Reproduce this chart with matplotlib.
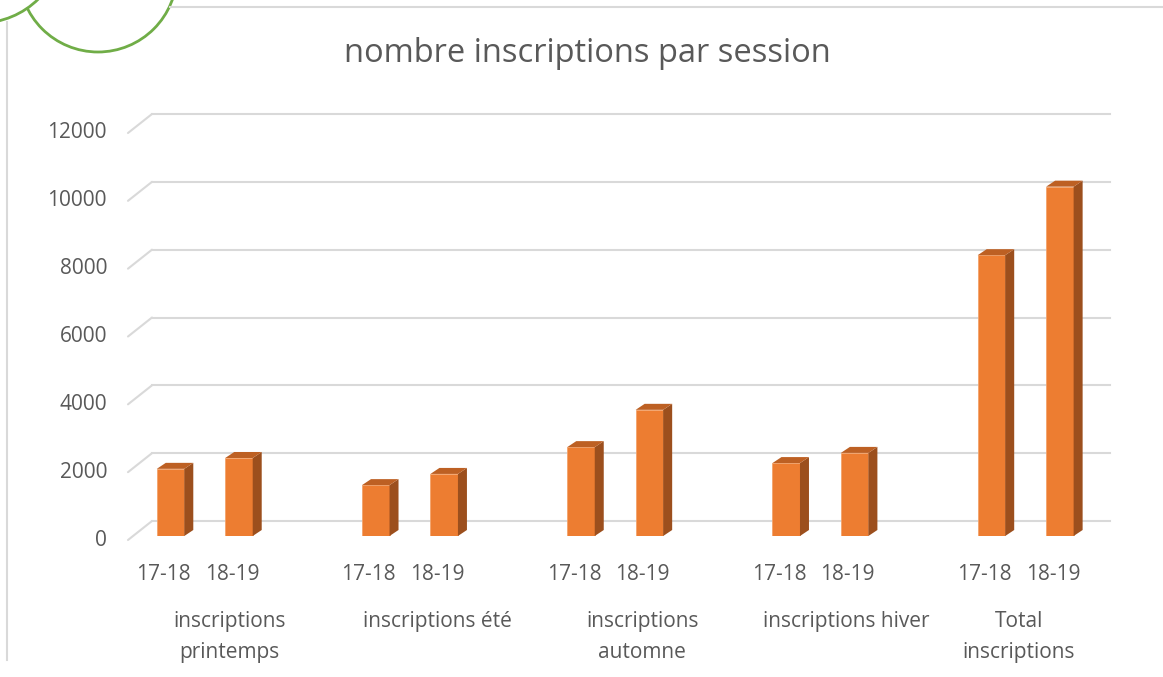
import matplotlib
matplotlib.use("Agg")
import matplotlib.pyplot as plt
from matplotlib.patches import Polygon, Circle
from matplotlib.transforms import ScaledTranslation

plt.rcParams['font.family'] = ['Open Sans', 'DejaVu Sans']

# data
categories = ['inscriptions\nprintemps', 'inscriptions été', 'inscriptions\nautomne',
              'inscriptions hiver', 'Total\ninscriptions']
series = ['17-18', '18-19']
values_1718 = [1980, 1500, 2620, 2150, 8280]
values_1819 = [2300, 1830, 3720, 2450, 10300]
yticks = [0, 2000, 4000, 6000, 8000, 10000, 12000]

# layout / style
W, H, DPI = 1163, 677, 100
FRONT = '#ed7d31'
SIDE = '#9c4f1d'
TOP = '#bd6023'
GRID = '#d9d9d9'
TXT = '#595959'
FS = 15
label_nudge = [25, 27, 27, 26, -7]   # px shift of the category labels

fig = plt.figure(figsize=(W / DPI, H / DPI), dpi=DPI)
# axes placed so that the bar plane maps to the reference pixels
ax = fig.add_axes([128 / W, (H - 536) / H, 958 / W, 407 / H])
ax.set_xlim(-0.374, 4.294)
ax.set_ylim(0, 12000)
ax.axis('off')


def off(dx, dy):
    # pixel offset (dy positive = down) on top of data coordinates
    return ax.transData + ScaledTranslation(dx / DPI, -dy / DPI, fig.dpi_scale_trans)


x0, x1 = ax.get_xlim()
for v in yticks:
    ax.annotate('', xy=(x0, v), xycoords=off(24, -15), xytext=(x0, v), textcoords=off(0, 4),
                arrowprops=dict(arrowstyle='-', color=GRID, lw=1.5, shrinkA=0, shrinkB=0))
    ax.plot([x0, x1], [v, v], color=GRID, lw=1.5, zorder=1, transform=off(24, -15), clip_on=False)
    ax.text(x0, v, str(v), transform=off(-21, 4), ha='right', va='center',
            fontsize=FS, color=TXT)

bw = 0.134
shift = 0.1667
sx, sy = 9 / 205.25, 6 * 12000 / 407   # depth of the bars in data units
for j, vals in enumerate([values_1718, values_1819]):
    xs = [i + (2 * j - 1) * shift for i in range(len(categories))]
    ax.bar(xs, vals, width=bw, color=FRONT, edgecolor='#f3a36b', linewidth=0.6, zorder=3)
    for x, v in zip(xs, vals):
        r, l = x + bw / 2, x - bw / 2
        ax.add_patch(Polygon([(r, 0), (r + sx, sy), (r + sx, v + sy), (r, v)],
                             closed=True, facecolor=SIDE, edgecolor='none', zorder=3))
        ax.add_patch(Polygon([(l, v), (l + sx, v + sy), (r + sx, v + sy), (r, v)],
                             closed=True, facecolor=TOP, edgecolor='none', zorder=3))
        ax.text(x, 0, series[j], transform=off(-7, 39), ha='center', va='center',
                fontsize=FS, color=TXT)

for i, cat in enumerate(categories):
    ax.text(i, 0, cat, transform=off(label_nudge[i], 75), ha='center', va='top',
            fontsize=FS, color=TXT, linespacing=1.6)

fig.text(587 / W, 1 - 53 / H, 'nombre inscriptions par session', ha='center', va='center',
         fontsize=23.5, color=TXT)

# frame lines and green circles at the top-left corner
fig.add_artist(plt.Line2D([7 / W, 7 / W], [1 - 22 / H, 1 - 660 / H], color=GRID, lw=1.5))
fig.add_artist(plt.Line2D([170 / W, 1], [1 - 7 / H, 1 - 7 / H], color=GRID, lw=1.5))
for cx, cy, rad in [(98, -27, 79), (-20, -60, 83)]:
    fig.add_artist(Circle((cx, H - cy), rad, transform=None, facecolor='white',
                          edgecolor='#70ad47', lw=2))

fig.savefig('out.png', dpi=DPI)
